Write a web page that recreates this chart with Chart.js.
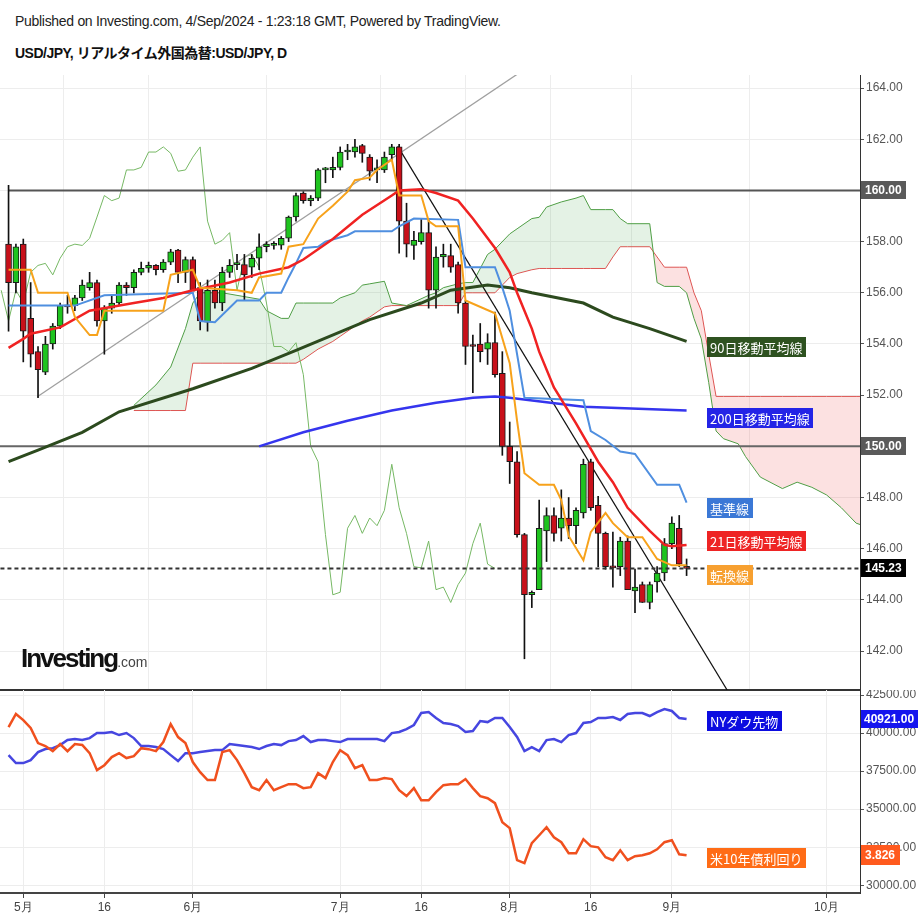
<!DOCTYPE html>
<html><head><meta charset="utf-8">
<script src="https://cdn.jsdelivr.net/npm/chart.js@4.4.1/dist/chart.umd.min.js"></script>
<style>
html,body{margin:0;padding:0;background:#fff;width:924px;height:924px;overflow:hidden;}
#wrap{position:relative;width:924px;height:924px;}
.hdr1{position:absolute;left:15px;top:13px;font:14px 'Liberation Sans',Arial,sans-serif;letter-spacing:-0.3px;color:#222;white-space:nowrap;}
.hdr2{position:absolute;left:15px;top:42px;font:bold 14px 'Liberation Sans','Noto Sans CJK JP',sans-serif;letter-spacing:-0.5px;color:#111;white-space:nowrap;}
#c1{position:absolute;left:0;top:75px;}
#c2{position:absolute;left:0;top:690px;}
.logo{position:absolute;left:21px;top:643px;z-index:5;white-space:nowrap;font-family:'Liberation Sans',Arial,sans-serif;}
.logo b{font-size:26px;letter-spacing:-2px;color:#111;}
.logo span{font-size:14px;color:#444;}
</style></head>
<body><div id="wrap">
<div class="hdr1">Published on Investing.com, 4/Sep/2024 - 1:23:18 GMT, Powered by TradingView.</div>
<div class="hdr2">USD/JPY, リアルタイム外国為替:USD/JPY, D</div>
<canvas id="c1" width="924" height="617"></canvas>
<canvas id="c2" width="924" height="234"></canvas>
<div class="logo"><b>Investing</b><span>.com</span></div>
</div>
<script>
// ---- categories (trading days, index 0 = 2024-04-29) ----
const dates = ['04-29','04-30','05-01','05-02','05-03','05-06','05-07','05-08','05-09','05-10','05-13','05-14','05-15','05-16','05-17','05-20','05-21','05-22','05-23','05-24','05-27','05-28','05-29','05-30','05-31','06-03','06-04','06-05','06-06','06-07','06-10','06-11','06-12','06-13','06-14','06-17','06-18','06-19','06-20','06-21','06-24','06-25','06-26','06-27','06-28','07-01','07-02','07-03','07-04','07-05','07-08','07-09','07-10','07-11','07-12','07-15','07-16','07-17','07-18','07-19','07-22','07-23','07-24','07-25','07-26','07-29','07-30','07-31','08-01','08-02','08-05','08-06','08-07','08-08','08-09','08-12','08-13','08-14','08-15','08-16','08-19','08-20','08-21','08-22','08-23','08-26','08-27','08-28','08-29','08-30','09-02','09-03','09-04'];
const tickIdx = [2,13,25,45,56,68,79,90,111];
const tickLabels = ['5月','16','6月','7月','16','8月','16','9月','10月'];
const priceTicks = [142,144,146,148,150,152,154,156,158,160,162,164];
const dowTicks = [30000,32500,35000,37500,40000,42500];

// ---- USD/JPY daily OHLC ----
const open  = [157.9,156.4,157.9,155.0,153.7,152.9,154.0,154.7,155.5,155.5,155.8,156.2,156.4,154.9,155.4,155.6,156.3,156.2,156.8,156.96,157.07,156.9,157.2,157.67,156.8,157.3,156.2,154.85,156.1,155.6,156.8,157.1,157.1,157.0,157.35,157.8,157.85,157.86,158.13,158.96,159.9,159.6,159.7,160.8,160.8,160.9,161.5,161.5,161.75,161.3,160.8,160.8,161.4,161.7,158.8,157.85,158.0,158.35,156.1,157.4,157.45,157.1,155.6,153.95,154.0,153.8,154.05,152.85,150.0,149.4,146.55,144.2,144.4,146.7,147.3,146.8,147.2,146.9,147.4,149.4,147.7,146.6,145.3,145.3,146.3,144.35,144.6,143.9,144.7,145.05,146.2,146.8,145.3];
const high  = [160.2,157.9,158.1,156.4,153.9,154.3,154.8,155.6,155.9,155.9,156.5,156.8,156.5,155.5,155.9,156.4,156.4,156.9,157.2,157.2,157.1,157.3,157.7,157.7,157.4,157.4,156.4,156.5,156.5,157.0,157.3,157.5,157.5,157.5,158.3,158.0,158.0,158.2,159.0,159.9,159.95,159.8,160.85,160.9,161.3,161.7,161.8,162.0,161.8,161.4,161.2,161.5,161.8,161.8,159.5,158.4,158.9,158.9,157.8,157.9,157.9,157.2,155.7,154.35,154.8,154.4,155.25,153.7,150.95,149.8,146.6,144.35,147.9,147.6,147.6,148.3,148.0,147.6,149.5,149.5,148.05,146.65,146.65,146.45,146.5,145.2,144.7,144.7,145.3,146.4,147.25,147.3,145.6];
const low   = [154.5,156.0,153.3,153.1,151.9,152.8,153.8,154.6,155.2,155.3,155.7,156.1,154.7,153.6,155.2,155.5,155.9,156.0,156.7,156.8,156.7,156.8,157.1,156.4,156.4,156.1,154.55,154.5,155.4,155.3,156.6,156.9,155.7,156.6,156.9,157.6,157.7,157.7,158.0,158.8,159.5,159.4,159.6,160.3,160.5,160.8,161.2,161.3,161.1,160.4,160.3,160.7,161.2,157.55,157.4,157.3,157.9,155.4,155.4,157.0,156.8,155.2,153.2,152.1,153.3,153.2,152.7,149.65,148.55,146.45,141.7,143.7,144.4,145.5,146.3,146.3,146.4,146.2,147.2,147.5,145.3,145.2,144.5,144.95,144.4,143.5,143.9,143.65,144.3,144.75,146.0,145.3,144.95];
const close = [156.4,157.8,154.5,153.6,153.0,154.0,154.7,155.5,155.45,155.8,156.3,156.4,154.9,155.4,155.6,156.3,156.2,156.8,156.96,157.07,156.9,157.2,157.6,156.8,157.3,156.1,154.9,156.1,155.6,156.8,157.07,157.15,156.7,157.35,157.8,157.9,157.85,158.13,158.96,159.8,159.6,159.7,160.8,160.8,160.9,161.5,161.5,161.7,161.45,160.75,160.8,161.3,161.7,158.8,157.9,158.05,158.35,156.1,157.4,157.5,157.0,155.6,153.9,153.9,153.7,154.05,152.8,150.0,149.4,146.55,144.2,144.3,146.8,147.3,146.6,147.2,146.9,147.5,149.3,147.6,146.6,145.3,145.25,146.3,144.4,144.5,143.9,144.6,145.05,146.2,147.0,145.4,145.23];
const lastPrice = 145.23;

// ---- indicator lines (index, value) ----
const tenkanIdx = [0,3,4,8,9,11,12,13,21,22,25,26,31,33,34,37,38,40,42,44,46,47,49,50,52,53,56,57,58,61,62,66,68,69,70,72,74,75,76,78,79,81,82,84,86,88,90,92];
const tenkanVal = [156.9,156.9,156.0,156.0,155.05,154.35,154.35,155.3,155.3,156.7,156.9,156.2,156.1,156.0,156.6,156.75,157.8,157.9,158.9,159.4,159.95,160.4,160.5,160.8,161.2,159.8,159.8,158.8,158.6,158.6,155.7,155.2,153.25,151.0,148.95,148.5,148.5,147.9,146.5,145.55,146.65,147.4,147.0,146.45,146.45,145.6,145.35,145.35];
const kijunIdx = [0,9,13,25,26,28,31,34,35,37,38,39,40,42,43,46,47,52,53,55,61,62,66,67,68,70,78,79,81,83,85,88,91,92];
const kijunVal = [155.5,155.5,155.9,156.0,154.9,154.85,155.7,155.7,156.0,156.0,156.6,157.15,157.75,157.8,158.0,158.25,158.4,158.4,158.6,158.9,158.85,157.0,157.0,156.2,155.3,151.9,151.8,150.6,150.25,149.8,149.7,148.5,148.5,147.8];
const ma21Idx = [0,2,3,7,11,17,21,25,30,34,38,40,44,48,52,53,56,58,61,63,66,68,69,70,71,72,74,77,80,82,84,87,89,90,92];
const ma21Val = [153.85,154.2,154.4,154.65,155.3,155.6,155.8,156.1,156.4,156.75,157.0,157.3,158.1,159.05,159.8,160.0,160.05,159.9,159.6,158.9,157.75,156.8,156.0,155.3,154.6,153.7,152.3,150.9,149.4,148.6,147.6,146.7,146.15,146.1,146.15];
const ma90Idx = [0,4,10,15,25,33,39,49,56,60,65,68,71,78,82,87,92];
const ma90Val = [149.4,149.85,150.55,151.35,152.25,153.05,153.75,154.95,155.6,156.1,156.3,156.2,156.0,155.6,155.05,154.6,154.1];
const ma200Idx = [34,40,46,52,58,63,66,68,78,92];
const ma200Val = [150.0,150.55,151.0,151.4,151.7,151.9,151.95,151.9,151.55,151.4];
const cloudIdx = [17,20,22,24,25,26,29,31,34,35,37,38,39,40,42,44,45,47,48,49,51,52,54,57,58,59,61,62,63,65,66,68,69,71,72,73,75,77,78,79,81,82,83,84,87,88,89,91,92,93,94,95,96,97,99,100,102,105,107,109,111,113,115,116];
const spanA = [151.6,152.4,153.1,154.6,155.6,156.0,156.0,155.9,155.75,155.3,155.0,155.0,155.6,155.6,155.6,155.6,155.8,156.0,156.3,156.35,156.45,155.6,155.5,155.9,156.0,156.2,156.35,156.4,156.4,157.5,157.7,158.3,158.5,158.9,158.95,159.35,159.55,159.7,159.8,159.25,159.25,159.25,158.9,158.7,158.7,156.4,156.25,156.25,156.0,155.0,154.2,152.5,150.6,150.3,150.1,149.6,148.8,148.35,148.6,148.4,148.1,147.6,147.0,146.9];
const spanB = [151.4,151.4,151.4,151.4,153.25,153.25,153.25,153.25,153.25,153.25,153.25,153.25,153.25,153.4,153.8,154.1,154.3,154.7,154.9,155.05,155.45,155.5,155.5,155.5,155.5,155.5,155.5,156.0,156.0,156.0,156.0,156.6,156.75,156.9,156.95,156.95,156.95,156.95,156.95,156.95,156.95,157.4,157.8,157.8,157.8,157.4,157.0,157.0,157.0,156.0,155.3,153.6,151.95,151.95,151.95,151.95,151.95,151.95,151.95,151.95,151.95,151.95,151.95,151.95];
const chikouShift = 26;
const trendUpIdx = [3.9,70];   const trendUpVal = [151.94,164.73];
const trendDnIdx = [52.8,100]; const trendDnVal = [161.73,139.29];
const levels = [160,150];

// ---- lower panel: NY Dow futures and US 10y yield ----
const dow = [38550,38030,38030,38220,38750,38950,39010,39210,39540,39610,39540,39670,40000,40000,40070,39870,40000,39670,39150,39150,39080,38950,38550,38160,38680,38680,38750,38820,38880,38880,39280,39210,39150,39080,38950,39150,39280,39210,39470,39540,39800,39410,39540,39540,39470,39410,39610,39610,39610,39610,39610,39470,40000,40070,40260,40530,41320,41380,40990,40660,40590,40460,40070,40130,40790,40720,40990,40990,40400,39740,38820,39080,38820,39540,39610,39410,39870,40000,40660,40720,40990,40990,41050,40860,41250,41320,41320,41120,41380,41580,41450,40990,40921];
const yld = [4.602,4.681,4.644,4.596,4.505,4.487,4.456,4.499,4.456,4.499,4.493,4.444,4.341,4.371,4.420,4.444,4.414,4.426,4.474,4.468,4.456,4.511,4.620,4.541,4.505,4.390,4.329,4.281,4.281,4.450,4.462,4.402,4.323,4.238,4.220,4.281,4.220,4.238,4.256,4.256,4.232,4.238,4.323,4.293,4.390,4.462,4.432,4.353,4.371,4.281,4.281,4.293,4.287,4.220,4.184,4.232,4.159,4.159,4.208,4.250,4.256,4.256,4.287,4.232,4.184,4.171,4.141,4.026,3.990,3.796,3.778,3.899,3.947,3.996,3.935,3.905,3.838,3.838,3.923,3.881,3.874,3.814,3.796,3.856,3.796,3.820,3.826,3.838,3.862,3.905,3.917,3.832,3.826];
const lastDow = 40921, lastYld = 3.826;

// ---------------- drawing ----------------
Chart.defaults.font.family = "'Liberation Sans', Arial, sans-serif";
const X_MIN = -1.16, X_MAX = 115.53;
const GREEN = '#1fc41f', RED = '#c8101a';
const P = (ix, vs) => ix.map((x, k) => ({x, y: vs[k]}));
const L = (data, color, width, order, extra) => Object.assign({type:'line', data, borderColor:color, borderWidth:width, pointRadius:0, pointHoverRadius:0, fill:false, tension:0, order}, extra || {});
const CJK = "'Noto Sans CJK JP','Liberation Sans',sans-serif";

const tagPlugin = {
  id: 'tags',
  afterDraw(chart, args, opts) {
    const ctx = chart.ctx;
    (opts.items || []).forEach(t => {
      const y = Math.round(chart.scales[t.axis].getPixelForValue(t.value));
      ctx.save();
      ctx.font = t.font;
      const w = t.w || Math.ceil(ctx.measureText(t.text).width + 2 * t.pad);
      ctx.fillStyle = t.bg;
      ctx.fillRect(t.x, y - t.h / 2, w, t.h);
      ctx.fillStyle = '#fff';
      ctx.textBaseline = 'middle';
      ctx.fillText(t.text, t.x + t.pad, y + 1);
      ctx.restore();
    });
  }
};

const ds = [];
ds.push(L(P(cloudIdx, spanB), '#e25454', 1, 12));                       // 0 senkou B
ds.push(L(P(cloudIdx, spanA), '#4f9e45', 1, 11, {fill:{target:0, above:'rgba(76,170,80,0.15)', below:'rgba(240,80,80,0.17)'}})); // 1 senkou A
ds.push(L(close.slice(chikouShift - 1).map((c, k) => ({x: k - 1, y: c})), '#76b864', 1, 10)); // chikou
ds.push(L([{x:0,y:levels[0]},{x:120,y:levels[0]}], '#555', 2, 9));
ds.push(L([{x:-3,y:levels[1]},{x:120,y:levels[1]}], '#666', 2, 9));
ds.push(L(P(trendUpIdx, trendUpVal), '#a0a0a0', 1.3, 8));
ds.push(L(P(trendDnIdx, trendDnVal), '#111', 1.2, 8));
ds.push({type:'bar', data: close.map((c,i)=>({x:i, y:[low[i], high[i]]})), backgroundColor:'#111', barThickness:1, grouped:false, order:7});
ds.push({type:'bar', data: close.map((c,i)=>({x:i, y:[open[i], c]})), backgroundColor: close.map((c,i)=> c >= open[i] ? GREEN : RED), borderColor:'#1a1a1a', borderWidth:1, borderSkipped:false, barThickness:6, minBarLength:2, grouped:false, order:6});
ds.push(L([{x:-3,y:lastPrice},{x:120,y:lastPrice}], '#333', 2, 5, {borderDash:[4,3]}));
ds.push(L(P(ma200Idx, ma200Val), '#3535ee', 2.5, 4));
ds.push(L(P(ma90Idx, ma90Val), '#2c4a1e', 3, 3));
ds.push(L(P(kijunIdx, kijunVal), '#4f8fe0', 2, 2));
ds.push(L(P(ma21Idx, ma21Val), '#f02222', 2.5, 1));
ds.push(L(P(tenkanIdx, tenkanVal), '#f7a21b', 2, 0));

const yAxisCommon = {
  position:'right',
  grid:{color:'#ededed', tickLength:4, tickColor:'#555'},
  border:{color:'#333', width:1},
  ticks:{color:'#555', font:{size:12}, padding:2, callback: v => Number(v).toFixed(2)},
};

new Chart(document.getElementById('c1'), {
  type:'line',
  data:{datasets: ds},
  plugins:[tagPlugin],
  options:{
    responsive:false, animation:false, events:[],
    layout:{padding:0},
    plugins:{legend:{display:false}, tooltip:{enabled:false},
      tags:{items:[
        {axis:'y', value:160, text:'160.00', bg:'#5a5a5a', x:861, h:18, pad:4, font:'bold 12px Liberation Sans, Arial'},
        {axis:'y', value:150, text:'150.00', bg:'#5a5a5a', x:861, h:18, pad:4, font:'bold 12px Liberation Sans, Arial'},
        {axis:'y', value:lastPrice, text:lastPrice.toFixed(2), bg:'#000', x:861, h:18, pad:4, font:'bold 12px Liberation Sans, Arial'},
        {axis:'y', value:153.88, text:'90日移動平均線', bg:'#2e5220', x:707, h:20, pad:3, font:'13px ' + CJK},
        {axis:'y', value:151.1, text:'200日移動平均線', bg:'#2424e6', x:707, h:20, pad:3, font:'13px ' + CJK},
        {axis:'y', value:147.59, text:'基準線', bg:'#3b78d6', x:707, h:20, pad:3, font:'13px ' + CJK},
        {axis:'y', value:146.3, text:'21日移動平均線', bg:'#ee2424', x:707, h:20, pad:3, font:'13px ' + CJK},
        {axis:'y', value:144.97, text:'転換線', bg:'#f7a030', x:707, h:20, pad:3, font:'13px ' + CJK}
      ]}},
    scales:{
      x:{type:'linear', min:X_MIN, max:X_MAX, offset:false,
        grid:{color:'#ededed', drawTicks:false}, border:{display:true, color:'#333', width:2},
        ticks:{display:false},
        afterBuildTicks: s => { s.ticks = tickIdx.map(v => ({value:v})); },
        afterFit: s => { s.height = 2; s.paddingLeft = 0; s.paddingRight = 0; }},
      y:Object.assign({}, yAxisCommon, {min:140.48, max:164.51,
        afterBuildTicks: s => { s.ticks = priceTicks.map(v => ({value:v})); },
        afterFit: s => { s.width = 64; s.paddingTop = 0; s.paddingBottom = 0; }})
    }
  }
});

new Chart(document.getElementById('c2'), {
  type:'line',
  data:{datasets:[
    L(dow.map((v,i)=>({x:i, y:v})), '#4646e0', 2.5, 1, {yAxisID:'yDow'}),
    L(yld.map((v,i)=>({x:i, y:v})), '#f0501e', 2.5, 0, {yAxisID:'yYld'})
  ]},
  plugins:[tagPlugin],
  options:{
    responsive:false, animation:false, events:[],
    layout:{padding:0},
    plugins:{legend:{display:false}, tooltip:{enabled:false},
      tags:{items:[
        {axis:'yDow', value:lastDow, text:lastDow.toFixed(2), bg:'#1414ee', x:861, h:18, pad:3, font:'bold 12px Liberation Sans, Arial'},
        {axis:'yYld', value:lastYld, text:lastYld.toFixed(3), bg:'#ff5a1e', x:861, h:20, pad:4, font:'bold 12px Liberation Sans, Arial'},
        {axis:'yDow', value:40790, text:'NYダウ先物', bg:'#0c0ce0', x:707, h:20, pad:3, font:'13px ' + CJK},
        {axis:'yYld', value:3.808, text:'米10年債利回り', bg:'#ff6c16', x:707, h:20, pad:3, font:'13px ' + CJK}
      ]}},
    scales:{
      x:{type:'linear', min:X_MIN, max:X_MAX, offset:false,
        grid:{color:'#ededed', tickLength:5, tickColor:'#444'},
        border:{display:true, color:'#444', width:2},
        ticks:{color:'#444', font:{size:12}, padding:2, maxRotation:0, autoSkip:false, callback:(v, k) => tickLabels[k]},
        afterBuildTicks: s => { s.ticks = tickIdx.map(v => ({value:v})); },
        afterFit: s => { s.height = 31; s.paddingLeft = 0; s.paddingRight = 0; }},
      yDow:Object.assign({}, yAxisCommon, {min:29493, max:42829,
        afterBuildTicks: s => { s.ticks = dowTicks.map(v => ({value:v})); },
        afterFit: s => { s.width = 64; s.paddingTop = 0; s.paddingBottom = 0; }}),
      yYld:{type:'linear', display:false, min:3.5975, max:4.826}
    }
  }
});
</script>
</body></html>
